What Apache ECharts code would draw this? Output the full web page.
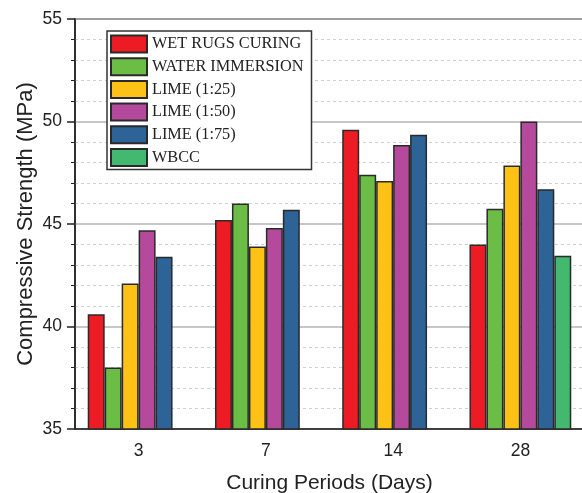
<!DOCTYPE html>
<html>
<head>
<meta charset="utf-8">
<script src="https://cdn.jsdelivr.net/npm/echarts@6/dist/echarts.min.js"></script>
<style>
  html, body { margin: 0; padding: 0; background: #fff; }
  #chart { width: 582px; height: 493px; }
</style>
</head>
<body>
<div id="chart"></div>
<script>
// Curing periods (days) on the x axis
const categories = ['3', '7', '14', '28'];

// Compressive strength (MPa) per curing method
const wetRugs        = [40.6, 45.2, 49.6, 44.0];
const waterImmersion = [38.0, 46.0, 47.4, 45.75];
const lime125        = [42.1, 43.9, 47.1, 47.85];
const lime150        = [44.7, 44.8, 48.85, 50.0];
const lime175        = [43.4, 45.7, 49.35, 46.7];
const wbcc           = [null, null, null, 43.45];

const seriesNames = ['WET RUGS CURING', 'WATER IMMERSION', 'LIME (1:25)', 'LIME (1:50)', 'LIME (1:75)', 'WBCC'];
const seriesData = [wetRugs, waterImmersion, lime125, lime150, lime175, wbcc];
const seriesColors = ['#ED1C24', '#6CBD45', '#FEC116', '#B54A9D', '#2E6397', '#43B86F'];

const chart = echarts.init(document.getElementById('chart'));

chart.setOption({
  animation: false,
  backgroundColor: '#fff',
  grid: {
    left: 75, right: -2, top: 19, bottom: 64,
    containLabel: false,
    outerBoundsMode: 'none',
    show: true, borderColor: '#222', borderWidth: 1.5, backgroundColor: 'transparent'
  },
  legend: {
    orient: 'vertical',
    left: 107, top: 31,
    itemWidth: 36, itemHeight: 17, itemGap: 3.7,
    padding: [3.5, 8, 2.5, 3],
    backgroundColor: '#fff',
    borderColor: '#333', borderWidth: 1.5,
    icon: 'rect',
    textStyle: { fontFamily: '"Liberation Serif", "Times New Roman", serif', fontSize: 16.3, color: '#222', lineHeight: 17, padding: [0, 0, 0, 0] },
    data: seriesNames
  },
  xAxis: {
    type: 'category',
    data: categories,
    name: 'Curing Periods (Days)',
    nameLocation: 'middle',
    nameGap: 44,
    nameMoveOverlap: false,
    nameTextStyle: { fontFamily: '"Liberation Sans", Arial, sans-serif', fontSize: 21, color: '#222' },
    axisLine: { lineStyle: { color: '#222', width: 1.5 } },
    axisTick: { alignWithLabel: true, length: 7, lineStyle: { color: '#222', width: 1.5 } },
    axisLabel: { fontFamily: '"Liberation Sans", Arial, sans-serif', fontSize: 17.5, color: '#222', margin: 13 },
    splitLine: { show: false }
  },
  yAxis: {
    type: 'value',
    min: 35, max: 55, interval: 5,
    name: 'Compressive Strength (MPa)',
    nameLocation: 'middle',
    nameGap: 38,
    nameMoveOverlap: false,
    nameTextStyle: { fontFamily: '"Liberation Sans", Arial, sans-serif', fontSize: 22, color: '#222' },
    axisLine: { show: true, lineStyle: { color: '#222', width: 1.5 } },
    axisTick: { show: true, length: 8, lineStyle: { color: '#222', width: 1.5 } },
    minorTick: { show: true, splitNumber: 5, length: 4, lineStyle: { color: '#222', width: 1 } },
    axisLabel: { fontFamily: '"Liberation Sans", Arial, sans-serif', fontSize: 17.5, color: '#222', margin: 13 },
    splitLine: { show: true, lineStyle: { color: '#b4b4b4', width: 1.5 } },
    minorSplitLine: { show: true, lineStyle: { color: '#cfcfcf', width: 1, type: [3, 3] } }
  },
  series: seriesNames.map((name, i) => ({
    name: name,
    type: 'bar',
    data: seriesData[i],
    barGap: '0%',
    barCategoryGap: '20%',
    itemStyle: { color: seriesColors[i], borderColor: '#2a2a2a', borderWidth: 1.5 }
  }))
});
</script>
</body>
</html>
